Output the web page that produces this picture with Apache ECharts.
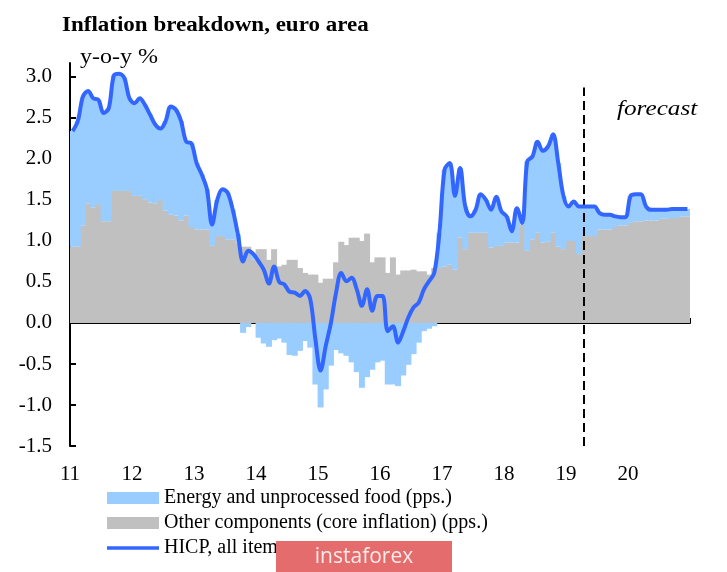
<!DOCTYPE html>
<html><head><meta charset="utf-8">
<script src="https://cdn.jsdelivr.net/npm/echarts@6/dist/echarts.min.js"></script>
<style>html,body{margin:0;padding:0;background:#fff}#c{width:727px;height:572px}</style>
</head><body><div id="c"></div>
<script>
// ---- data ----
const yearLabels = ['11','12','13','14','15','16','17','18','19','20'];
const yearPositions = [0,12,24,36,48,60,72,84,96,108]; // months since Jan 2011
const categories = [];
for (let y = 2011; y <= 2020; y++) for (let m = 1; m <= 12; m++) categories.push(y + '-' + String(m).padStart(2, '0'));
const yTicks = [-1.5,-1,-0.5,0,0.5,1,1.5,2,2.5,3];

const hicp = [
 2.34, 2.46, 2.76, 2.83, 2.74, 2.72, 2.56, 2.62, 3.02, 3.04, 2.99, 2.74,
 2.68, 2.74, 2.66, 2.54, 2.42, 2.37, 2.46, 2.64, 2.60, 2.46, 2.21, 2.19,
 1.95, 1.81, 1.63, 1.20, 1.50, 1.63, 1.59, 1.38, 1.08, 0.75, 0.88, 0.84,
 0.75, 0.65, 0.48, 0.69, 0.50, 0.47, 0.38, 0.37, 0.33, 0.39, 0.29, -0.20,
 -0.58, -0.28, 0.00, 0.37, 0.61, 0.51, 0.55, 0.41, 0.21, 0.41, 0.15, 0.33,
 0.33, -0.10, -0.04, -0.24, -0.10, 0.07, 0.19, 0.25, 0.41, 0.51, 0.61, 1.10,
 1.87, 1.95, 1.55, 1.89, 1.42, 1.30, 1.38, 1.57, 1.50, 1.38, 1.54, 1.36,
 1.30, 1.12, 1.40, 1.22, 1.97, 2.03, 2.21, 2.10, 2.15, 2.30, 1.95, 1.55,
 1.42, 1.48, 1.42, 1.42, 1.42, 1.42, 1.34, 1.32, 1.32, 1.30, 1.29, 1.29,
 1.55, 1.57, 1.57, 1.42, 1.38, 1.38, 1.38, 1.38, 1.39, 1.39, 1.39, 1.39
];
const core = [
 0.93, 0.93, 1.19, 1.46, 1.41, 1.45, 1.24, 1.24, 1.61, 1.61, 1.61, 1.61,
 1.55, 1.55, 1.51, 1.47, 1.46, 1.50, 1.37, 1.32, 1.31, 1.25, 1.31, 1.17,
 1.14, 1.14, 1.14, 0.94, 1.06, 1.06, 1.02, 1.02, 0.98, 0.93, 0.93, 0.77,
 0.90, 0.90, 0.77, 0.90, 0.69, 0.71, 0.77, 0.77, 0.67, 0.61, 0.59, 0.59,
 0.49, 0.54, 0.54, 0.74, 0.99, 0.95, 1.04, 1.04, 1.00, 1.09, 0.74, 0.80,
 0.80, 0.61, 0.80, 0.59, 0.64, 0.64, 0.65, 0.63, 0.63, 0.59, 0.67, 0.67,
 0.69, 0.71, 0.65, 1.04, 0.90, 1.10, 1.10, 1.10, 1.10, 0.92, 0.94, 0.94,
 0.98, 0.98, 0.98, 1.20, 0.88, 1.02, 1.10, 0.98, 0.99, 1.10, 0.93, 0.90,
 1.00, 1.00, 0.84, 1.06, 1.06, 1.06, 1.14, 1.14, 1.14, 1.17, 1.19, 1.19,
 1.22, 1.24, 1.24, 1.25, 1.25, 1.25, 1.27, 1.27, 1.28, 1.28, 1.30, 1.30
];
const energy = [
 1.41, 1.53, 1.57, 1.37, 1.33, 1.27, 1.32, 1.38, 1.41, 1.43, 1.38, 1.13,
 1.13, 1.19, 1.15, 1.07, 0.96, 0.87, 1.09, 1.32, 1.29, 1.21, 0.90, 1.02,
 0.81, 0.67, 0.49, 0.26, 0.44, 0.57, 0.57, 0.36, 0.10, -0.12, -0.05, 0.07,
 -0.18, -0.25, -0.29, -0.21, -0.19, -0.24, -0.39, -0.40, -0.34, -0.22, -0.30, -0.75,
 -1.03, -0.81, -0.52, -0.33, -0.37, -0.40, -0.48, -0.60, -0.79, -0.66, -0.57, -0.48,
 -0.46, -0.75, -0.75, -0.77, -0.64, -0.51, -0.38, -0.24, -0.10, -0.07, -0.04, 0.43,
 1.18, 1.24, 0.90, 0.85, 0.52, 0.20, 0.28, 0.47, 0.40, 0.46, 0.60, 0.42,
 0.32, 0.14, 0.42, 0.02, 1.09, 1.01, 1.11, 1.12, 1.16, 1.20, 1.02, 0.65,
 0.42, 0.48, 0.58, 0.36, 0.36, 0.36, 0.20, 0.18, 0.18, 0.13, 0.10, 0.10,
 0.33, 0.33, 0.33, 0.17, 0.13, 0.13, 0.11, 0.11, 0.11, 0.11, 0.09, 0.09
];
const forecastStart = 99.5;   // months since Jan 2011 (April 2019)
const forecastTop = 2.87;

const nameEnergy = 'Energy and unprocessed food (pps.)';
const nameCore = 'Other components (core inflation) (pps.)';
const nameHicp = 'HICP, all items';

// ---- chart ----
const serif = 'Liberation Serif';
const chart = echarts.init(document.getElementById('c'), null, {renderer: 'canvas'});
chart.setOption({
  animation: false,
  backgroundColor: '#fff',
  grid: {left: 70, right: 37, top: 63, bottom: 126, containLabel: false},
  xAxis: [
    {
      type: 'category', data: categories, boundaryGap: true,
      axisLine: {show: true, onZero: true, lineStyle: {color: '#000', width: 2}},
      axisTick: {show: true, inside: true, interval: 11, length: 5, lineStyle: {color: '#000', width: 2}},
      axisLabel: {show: false}, splitLine: {show: false}
    },
    {
      type: 'value', min: 0, max: 120, interval: 12, position: 'bottom',
      axisLine: {show: false, onZero: false}, axisTick: {show: false}, splitLine: {show: false},
      axisLabel: {
        customValues: yearPositions,
        formatter: v => yearLabels[Math.round(v / 12)],
        fontFamily: serif, fontSize: 21, color: '#000', margin: 18
      }
    }
  ],
  yAxis: {
    type: 'value', min: -1.5, max: 3.17, interval: 0.5,
    axisLine: {show: true, onZero: false, lineStyle: {color: '#000', width: 2}},
    axisTick: {show: true, inside: true, length: 6, customValues: yTicks, lineStyle: {color: '#000', width: 2}},
    axisLabel: {customValues: yTicks, formatter: v => v.toFixed(1), fontFamily: serif, fontSize: 21, color: '#000', margin: 18},
    splitLine: {show: false}
  },
  legend: {
    orient: 'vertical', left: 102, top: 483, itemWidth: 52, itemHeight: 12, itemGap: 5,
    symbolKeepAspect: true,
    textStyle: {fontFamily: serif, fontSize: 20, color: '#000'},
    data: [
      {name: nameEnergy, icon: 'rect'},
      {name: nameCore, icon: 'rect'},
      {name: nameHicp, icon: 'path://M0,0 L52,0 L52,3.5 L0,3.5 Z'}
    ]
  },
  series: [
    {
      name: nameCore, type: 'bar', stack: 'total', data: core, barWidth: 6,
      itemStyle: {color: '#C0C0C0'}, z: 1
    },
    {
      name: nameEnergy, type: 'bar', stack: 'total', data: energy, barWidth: 6,
      itemStyle: {color: '#99CCFF'}, z: 1
    },
    {
      name: nameHicp, type: 'line', data: hicp, smooth: 0.35, symbol: 'none', showSymbol: false,
      lineStyle: {color: '#3366FF', width: 4}, itemStyle: {color: '#3366FF'}, z: 5
    },
    {
      name: 'forecast-marker', type: 'line', xAxisIndex: 1, data: [], symbol: 'none',
      markLine: {
        silent: true, symbol: ['none', 'none'], label: {show: false},
        lineStyle: {color: '#000', width: 2, type: [9, 5]},
        data: [[{coord: [forecastStart, -1.5]}, {coord: [forecastStart, forecastTop]}]]
      },
      z: 6
    }
  ],
  graphic: [
    {type: 'text', x: 62, y: 16, scaleX: 1.15, style: {text: 'Inflation breakdown, euro area', font: 'bold 20px "Liberation Serif"', fill: '#000'}},
    {type: 'text', x: 80, y: 48, scaleX: 1.2, style: {text: 'y-o-y %', font: '20px "Liberation Serif"', fill: '#000'}},
    {type: 'text', x: 617, y: 99, scaleX: 1.2, style: {text: 'forecast', font: 'italic 21px "Liberation Serif"', fill: '#000'}},
    {type: 'rect', z: 100, shape: {x: 276, y: 541, width: 176, height: 31}, style: {fill: '#E46C6C'}},
    {type: 'text', z: 101, x: 364, y: 557, style: {text: 'instaforex', font: '21px "Open Sans"', fill: '#FBEAEA', align: 'center', verticalAlign: 'middle'}}
  ]
});
</script></body></html>
